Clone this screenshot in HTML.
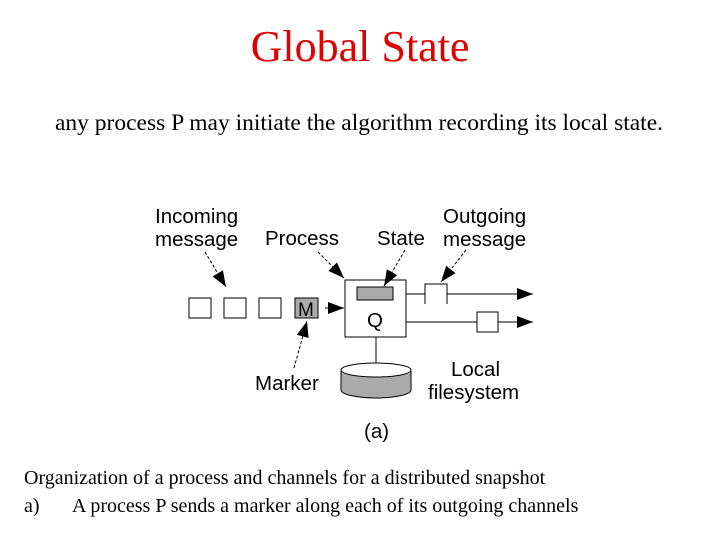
<!DOCTYPE html>
<html><head><style>
body{margin:0;width:720px;height:540px;background:#fff;overflow:hidden;position:relative;font-family:"Liberation Serif",serif}
.t{position:absolute;white-space:nowrap}
</style></head><body>
<div class="t" style="left:0;width:720px;text-align:center;top:21px;font-size:44px;color:#e00000">Global State</div>
<div class="t" style="left:55px;top:110px;font-size:23.5px">any process P may initiate the algorithm recording its local state.</div>
<div class="t" style="left:24px;top:467px;font-size:20px">Organization of a process and channels for a distributed snapshot</div>
<div class="t" style="left:24px;top:495px;font-size:20px">a)</div>
<div class="t" style="left:72px;top:495px;font-size:20px">A process P sends a marker along each of its outgoing channels</div>
<svg width="720" height="540" style="position:absolute;left:0;top:0" font-family="Liberation Sans, Arial, sans-serif" font-size="20.5">
<defs><marker id="b" markerWidth="16" markerHeight="12" refX="16" refY="6" orient="auto" markerUnits="userSpaceOnUse"><path d="M0,0L16,6L0,12z"/></marker></defs>
<g fill="#fff" stroke="#000" stroke-width="1">
<rect x="189" y="298" width="22" height="20"/><rect x="224" y="298" width="22" height="20"/><rect x="259" y="298" width="22" height="20"/>
<rect x="295" y="298" width="23" height="20" fill="#aaa"/>
<rect x="345" y="280" width="61" height="57"/>
<rect x="357" y="287" width="36" height="13" fill="#aaa"/>
<line x1="406" y1="294" x2="533" y2="294" marker-end="url(#b)"/>
<path d="M425,304V284H447V304"/>
<line x1="406" y1="322" x2="533" y2="322" marker-end="url(#b)"/>
<rect x="477" y="312" width="21" height="20"/>
<line x1="376" y1="337" x2="376" y2="370"/>
<path d="M341,370V390A35,8 0 0 0 411,390V370" fill="#aaa"/>
<ellipse cx="376" cy="370" rx="35" ry="7"/>
</g>
<g stroke="#000" stroke-dasharray="3,2" fill="none">
<line x1="205" y1="252" x2="226" y2="287" marker-end="url(#b)"/>
<line x1="318" y1="252" x2="344" y2="278" marker-end="url(#b)"/>
<line x1="405" y1="250" x2="384" y2="286" marker-end="url(#b)"/>
<line x1="466" y1="250" x2="441" y2="282" marker-end="url(#b)"/>
<line x1="294" y1="368" x2="307" y2="321" marker-end="url(#b)"/>
</g>
<line x1="325" y1="308" x2="344" y2="308" stroke="#000" marker-end="url(#b)"/>
<text x="155" y="223">Incoming</text><text x="155" y="246">message</text>
<text x="265" y="245">Process</text>
<text x="377" y="245">State</text>
<text x="443" y="223">Outgoing</text><text x="443" y="246">message</text>
<text x="298" y="316" font-size="19">M</text>
<text x="367" y="327">Q</text>
<text x="255" y="390">Marker</text>
<text x="451" y="376">Local</text><text x="428" y="399">filesystem</text>
<text x="364" y="438">(a)</text>
</svg>
</body></html>
